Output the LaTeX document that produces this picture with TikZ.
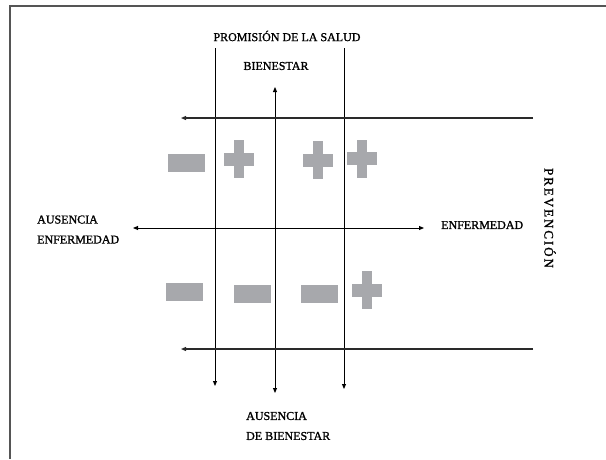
\documentclass[tikz,border=0pt]{standalone}
\usepackage{fontspec}
\setmainfont{Liberation Serif}[FakeBold=1.3]
\usetikzlibrary{arrows.meta}
\definecolor{symgray}{HTML}{A7A8AC}
\definecolor{framegray}{HTML}{555555}
\definecolor{axisgray}{HTML}{2A2A2A}
\begin{document}
\begin{tikzpicture}[x=1pt,y=-1pt,
  vaxis/.style={line width=0.9pt, black},
  haxis/.style={line width=1.1pt, axisgray},
  tipend/.style={-{Triangle[length=5pt,width=4pt]}},
  tipboth/.style={{Triangle[length=5pt,width=4pt]}-{Triangle[length=5pt,width=4pt]}},
  lbl/.style={font=\fontsize{12}{20}\selectfont, inner sep=0pt, text=black},
  pics/plussign/.style={code={
    \fill[symgray] (-5,-19) rectangle (5,19);
    \fill[symgray] (-15,-6.5) rectangle (15,6.5);}},
  pics/minussign/.style={code={
    \fill[symgray] (-18.5,-9) rectangle (18.5,9);}},
]
\useasboundingbox (0,0) rectangle (606,459);
% frame
\coordinate (fTL) at (10,6);
\coordinate (fTR) at (606,6);
\coordinate (fBL) at (10,459);
\draw[framegray, line width=2pt] (fTR) -- (fTL) -- (fBL);

% labels
\node[lbl] (promo) at (287,36) {PROMISIÓN DE LA SALUD};
\node[lbl] (bien) at (276,66) {BIENESTAR};
\node[lbl, anchor=west, align=left] (ausenf) at (37,229.5) {AUSENCIA\\ENFERMEDAD};
\node[lbl, anchor=west] (enf) at (441,225) {ENFERMEDAD};
\node[lbl, rotate=-90, font=\fontsize{13}{14}\selectfont\addfontfeatures{LetterSpace=15}] (prev) at (550,218) {PREVENCIÓN};
\node[lbl, anchor=west, align=left] (ausbien) at (246,426) {AUSENCIA\\DE BIENESTAR};

% axis end points
\coordinate (v1t) at (215,48);  \coordinate (v1b) at (215,386);
\coordinate (v2t) at (275,87);  \coordinate (v2b) at (275,393);
\coordinate (v3t) at (344,48);  \coordinate (v3b) at (344,389);
\coordinate (h1r) at (533,118); \coordinate (h1l) at (181,118);
\coordinate (h2l) at (133,228); \coordinate (h2r) at (424,228);
\coordinate (h3r) at (533,349); \coordinate (h3l) at (181,349);

\draw[vaxis, tipend] (v1t) -- (v1b);
\draw[vaxis, tipboth] (v2t) -- (v2b);
\draw[vaxis, tipend] (v3t) -- (v3b);
\draw[haxis, tipend] (h1r) -- (h1l);
\draw[vaxis, tipboth] (h2l) -- (h2r);
\draw[haxis, tipend] (h3r) -- (h3l);

% symbols, top row
\pic at (186.5,163) {minussign};
\pic at (239,159) {plussign};
\pic at (317.5,160) {plussign};
\pic at (362,158.5) {plussign};
% symbols, bottom row
\pic at (184.5,292) {minussign};
\pic at (252.5,293.5) {minussign};
\pic at (319,293.5) {minussign};
\pic at (366.5,290) {plussign};
\end{tikzpicture}
\end{document}
